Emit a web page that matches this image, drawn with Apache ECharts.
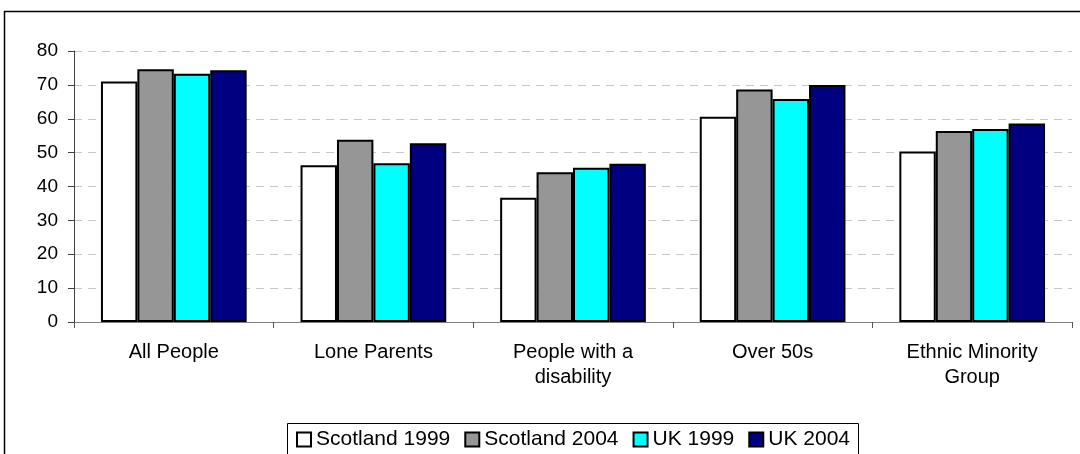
<!DOCTYPE html>
<html>
<head>
<meta charset="utf-8">
<script src="https://cdn.jsdelivr.net/npm/echarts@6/dist/echarts.min.js"></script>
<style>
  html, body { margin: 0; padding: 0; background: #fff; }
  #main { width: 1080px; height: 454px; }
</style>
</head>
<body>
<div id="main"></div>
<script>
// groups along the x axis
var categories = ['All People', 'Lone Parents', 'People with a\ndisability', 'Over 50s', 'Ethnic Minority\nGroup'];

// values
var scotland1999 = [71.0, 46.3, 36.7, 60.6, 50.3];
var scotland2004 = [74.6, 53.8, 44.2, 68.6, 56.4];
var uk1999 = [73.3, 46.9, 45.5, 65.8, 57.0];
var uk2004 = [74.3, 52.8, 46.7, 70.0, 58.6];

var seriesNames = ['Scotland 1999', 'Scotland 2004', 'UK 1999', 'UK 2004'];
var seriesData = [scotland1999, scotland2004, uk1999, uk2004];
var seriesColors = ['#ffffff', '#969696', '#00ffff', '#000080'];

var font = 'Liberation Sans, Arial, sans-serif';

var chart = echarts.init(document.getElementById('main'), null, { renderer: 'canvas' });

var series = seriesNames.map(function (name, i) {
  return {
    name: name,
    type: 'bar',
    data: seriesData[i],
    barGap: '0%',
    barCategoryGap: '27%',
    itemStyle: {
      color: seriesColors[i],
      borderColor: '#000',
      borderWidth: 2
    },
    emphasis: { disabled: true }
  };
});

var option = {
  backgroundColor: '#fff',
  animation: false,
  graphic: [{
    // outer frame of the chart box
    type: 'rect',
    shape: { x: 4.5, y: 11.5, width: 1300, height: 600 },
    style: { fill: 'none', stroke: '#000', lineWidth: 1.5 },
    silent: true,
    z: -1
  }, {
    // legend frame, runs off the bottom edge like the original
    type: 'rect',
    shape: { x: 287.5, y: 423.5, width: 571, height: 40 },
    style: { fill: 'none', stroke: '#000', lineWidth: 1 },
    silent: true
  }],
  grid: { left: 74, right: 8, top: 51, bottom: 132 },
  legend: {
    data: seriesNames,
    left: 287,
    top: 423,
    padding: [6, 9, 6, 9],
    itemGap: 14,
    itemWidth: 14,
    itemHeight: 14,
    icon: 'rect',
    textStyle: { fontFamily: font, fontSize: 21, color: '#000' }
  },
  xAxis: {
    type: 'category',
    data: categories,
    axisLine: { lineStyle: { color: '#808080', width: 1 } },
    axisTick: { show: true, length: 6, lineStyle: { color: '#555' } },
    axisLabel: {
      color: '#000',
      fontFamily: font,
      fontSize: 20,
      lineHeight: 25,
      margin: 18,
      interval: 0
    }
  },
  yAxis: {
    type: 'value',
    min: 0,
    max: 80,
    interval: 10,
    axisLine: { show: true, lineStyle: { color: '#404040', width: 1 } },
    axisTick: { show: true, length: 6, lineStyle: { color: '#404040' } },
    axisLabel: {
      color: '#000',
      fontFamily: font,
      fontSize: 19,
      margin: 16
    },
    splitLine: {
      show: true,
      lineStyle: { color: '#c8c8c8', type: [8, 6], width: 1 }
    }
  },
  series: series
};

chart.setOption(option);
</script>
</body>
</html>
